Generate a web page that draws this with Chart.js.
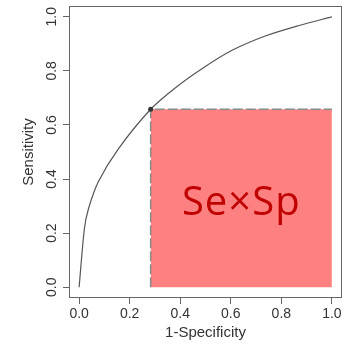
<!DOCTYPE html>
<html><head><meta charset="utf-8">
<script src="https://cdn.jsdelivr.net/npm/chart.js@4/dist/chart.umd.min.js"></script>
<style>html,body{margin:0;padding:0;background:#fff}#wrap{width:346px;height:344px}</style>
</head><body><div id="wrap"><canvas id="c" width="346" height="344"></canvas></div>
<script>
const curveX = [0, 0.021, 0.037, 0.076, 0.154, 0.283, 0.38, 0.489, 0.607, 0.739, 0.87, 1.0];
const curveY = [0, 0.217, 0.29, 0.39, 0.51, 0.658, 0.737, 0.81, 0.877, 0.93, 0.968, 1.0];
const cutX = 0.283;   // 1-Specificity at the marked point
const cutY = 0.658;   // Sensitivity at the marked point
const tickValues = [0, 0.2, 0.4, 0.6, 0.8, 1.0];
const tickLabels = ['0.0', '0.2', '0.4', '0.6', '0.8', '1.0'];
const xTitle = '1-Specificity';
const yTitle = 'Sensitivity';
const areaLabel = 'Se\u00D7Sp';

const curve = curveX.map((x, i) => ({x, y: curveY[i]}));
const rect = [{x: cutX, y: 0}, {x: cutX, y: cutY}, {x: 1, y: cutY}, {x: 1, y: 0}];

const overlay = {
  id: 'overlay',
  beforeDatasetsDraw(chart) {
    const {ctx, chartArea: a} = chart;
    ctx.save();
    ctx.strokeStyle = '#666';
    ctx.lineWidth = 1;
    ctx.strokeRect(a.left + 0.5, a.top + 0.5, a.right - a.left - 1, a.bottom - a.top - 1);
    ctx.restore();
  },
  afterDatasetsDraw(chart) {
    const {ctx, scales: {x, y}} = chart;
    ctx.save();
    ctx.fillStyle = '#C00000';
    ctx.font = '40px "Open Sans"';
    ctx.textAlign = 'center';
    ctx.textBaseline = 'middle';
    if ('letterSpacing' in ctx) ctx.letterSpacing = '1px';
    ctx.fillText(areaLabel, x.getPixelForValue((cutX + 1) / 2), y.getPixelForValue(0.31));
    if ('letterSpacing' in ctx) ctx.letterSpacing = '0px';
    ctx.fillStyle = '#333';
    ctx.font = '14px "Liberation Sans"';
    tickValues.forEach((v, i) => {
      ctx.textAlign = 'center';
      ctx.textBaseline = 'middle';
      ctx.fillText(tickLabels[i], x.getPixelForValue(v), 314);
      ctx.save();
      ctx.translate(52, y.getPixelForValue(v));
      ctx.rotate(-Math.PI / 2);
      ctx.fillText(tickLabels[i], 0, 0);
      ctx.restore();
    });
    ctx.font = '15px "Liberation Sans"';
    ctx.fillText(xTitle, (x.getPixelForValue(0) + x.getPixelForValue(1)) / 2, 333);
    ctx.save();
    ctx.translate(29, (y.getPixelForValue(0) + y.getPixelForValue(1)) / 2);
    ctx.rotate(-Math.PI / 2);
    ctx.fillText(yTitle, 0, 0);
    ctx.restore();
    ctx.restore();
  }
};

const setTicks = s => { s.ticks = tickValues.map(v => ({value: v})); };

new Chart(document.getElementById('c'), {
  type: 'scatter',
  data: {
    datasets: [
      {
        data: rect, showLine: true, order: 3,
        borderColor: '#8a8a8a', borderWidth: 1.5, borderDash: [10, 3],
        backgroundColor: 'rgb(255,128,128)', fill: 'origin',
        pointRadius: 0, tension: 0,
        segment: { borderColor: c => c.p0DataIndex === 2 ? 'rgba(0,0,0,0)' : undefined }
      },
      {
        data: curve, showLine: true, order: 1,
        borderColor: '#555', borderWidth: 1.2, tension: 0.3,
        pointRadius: 0, fill: false
      },
      {
        data: [{x: cutX, y: cutY}], order: 0,
        pointRadius: 2.5, pointBackgroundColor: '#333', pointBorderColor: '#333', borderWidth: 0
      }
    ]
  },
  options: {
    responsive: false, animation: false, devicePixelRatio: 1,
    layout: { padding: { top: 6, right: 3, left: 0, bottom: 0 } },
    plugins: { legend: { display: false }, tooltip: { enabled: false } },
    scales: {
      x: {
        type: 'linear', min: -0.04, max: 1.04,
        afterBuildTicks: setTicks,
        afterFit: s => { s.height = 46; },
        ticks: { display: false },
        border: { display: false },
        grid: { drawOnChartArea: false, drawTicks: true, tickLength: 6, tickColor: '#666', tickWidth: 1 }
      },
      y: {
        type: 'linear', min: -0.04, max: 1.04,
        afterBuildTicks: setTicks,
        afterFit: s => { s.width = 69; },
        ticks: { display: false },
        border: { display: false },
        grid: { drawOnChartArea: false, drawTicks: true, tickLength: 6, tickColor: '#666', tickWidth: 1 }
      }
    }
  },
  plugins: [overlay]
});
</script>
</body></html>
